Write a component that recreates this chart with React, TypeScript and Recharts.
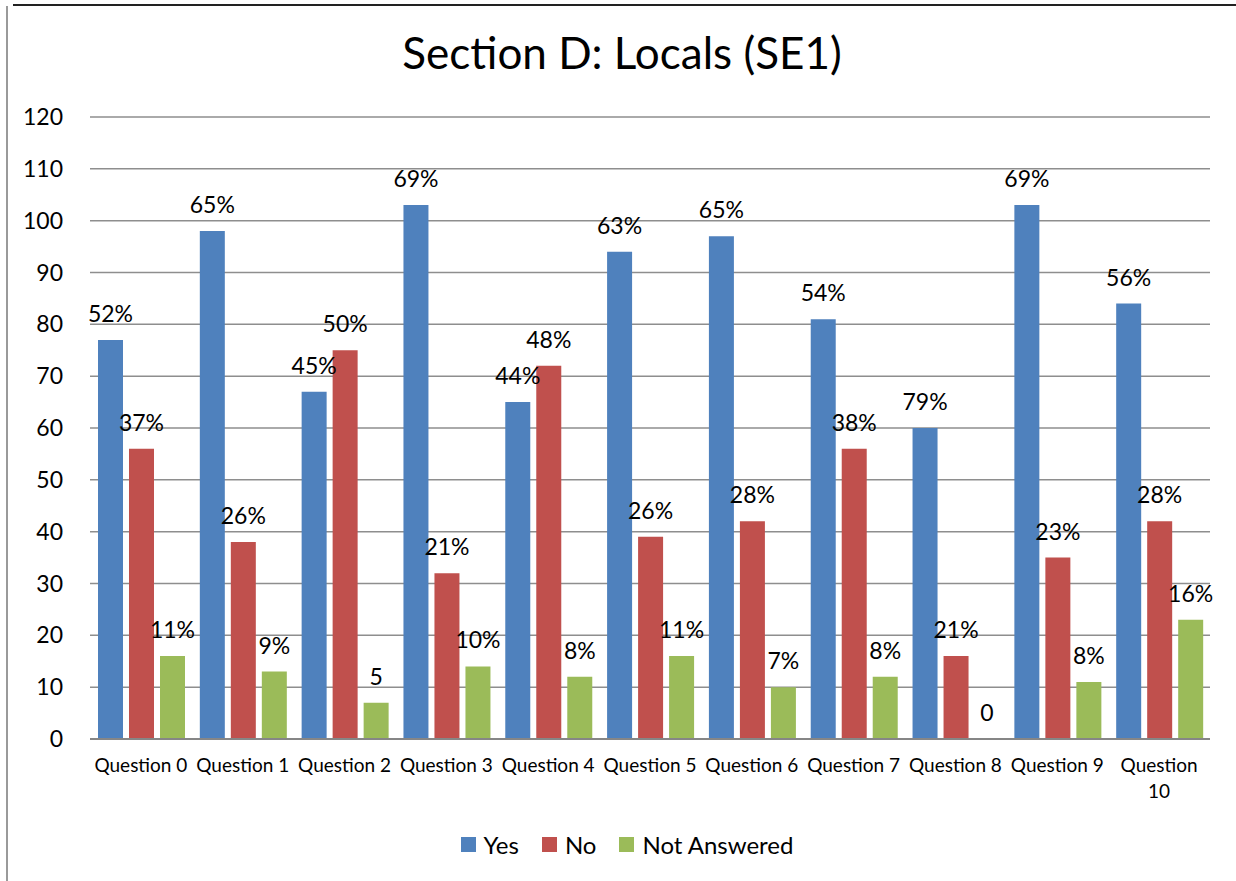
import React from "react"
import { Bar, BarChart, CartesianGrid, LabelList, Legend, XAxis, YAxis } from "recharts"

const questions = [
  "Question 0", "Question 1", "Question 2", "Question 3", "Question 4", "Question 5",
  "Question 6", "Question 7", "Question 8", "Question 9", "Question 10",
]
const seriesNames = ["Yes", "No", "Not Answered"]
const yesCounts = [77, 98, 67, 103, 65, 94, 97, 81, 60, 103, 84]
const noCounts = [56, 38, 75, 32, 72, 39, 42, 56, 16, 35, 42]
const naCounts = [16, 13, 7, 14, 12, 16, 10, 12, 0, 11, 23]
const yesLabels = ["52%", "65%", "45%", "69%", "44%", "63%", "65%", "54%", "79%", "69%", "56%"]
const noLabels = ["37%", "26%", "50%", "21%", "48%", "26%", "28%", "38%", "21%", "23%", "28%"]
const naLabels = ["11%", "9%", "5", "10%", "8%", "11%", "7%", "8%", "0", "8%", "16%"]
const yTicks = [0, 10, 20, 30, 40, 50, 60, 70, 80, 90, 100, 110, 120]

const FONT = "Lato, 'Liberation Sans', sans-serif"

const data = questions.map((q, i) => ({
  name: q,
  yes: yesCounts[i],
  no: noCounts[i],
  na: naCounts[i],
  yesLabel: yesLabels[i],
  noLabel: noLabels[i],
  naLabel: naLabels[i],
}))

function QuestionTick({ x, y, payload }: any) {
  const value: string = payload.value
  const lines = value.length > 10 ? value.split(" ") : [value]
  return (
    <text x={x} y={y} textAnchor="middle" fontSize={19} fill="#000" fontFamily={FONT}>
      {lines.map((line, i) => (
        <tspan key={i} x={x} dy={i === 0 ? 25 : 26}>
          {line}
        </tspan>
      ))}
    </text>
  )
}

// legend follows the series order, not recharts' alphabetical sort
function LegendBox({ payload }: any) {
  const items = seriesNames
    .map((n) => (payload || []).find((p: any) => p.value === n))
    .filter(Boolean)
  return (
    <div style={{ display: "flex", justifyContent: "center", alignItems: "center", height: 30, fontFamily: FONT }}>
      {items.map((p: any, i: number) => (
        <div key={i} style={{ display: "flex", alignItems: "center", marginRight: i < items.length - 1 ? 23 : 0 }}>
          <span style={{ width: 15, height: 15, background: p.color, display: "inline-block", marginRight: 8 }} />
          <span style={{ fontSize: 24, color: "#000" }}>{p.value}</span>
        </div>
      ))}
    </div>
  )
}

export default function App() {
  return (
    <div style={{ position: "absolute", left: 0, top: 0, width: 1236, height: 881, background: "#fff" }}>
      <div style={{ position: "absolute", left: 13, top: 4, right: 0, height: 2, background: "#222" }} />
      <div style={{ position: "absolute", left: 6, top: 6, bottom: 0, width: 2, background: "#9a9a9a" }} />
      <div
        style={{
          position: "absolute",
          left: 0,
          width: 1244,
          top: 26,
          textAlign: "center",
          fontFamily: FONT,
          fontSize: 44,
          color: "#000",
        }}
      >
        Section D: Locals (SE1)
      </div>
      <BarChart
        width={1236}
        height={881}
        data={data}
        margin={{ top: 117, right: 26, left: 0, bottom: 52 }}
        barCategoryGap={8}
        barGap={6}
        style={{ position: "absolute", left: 0, top: 0 }}
      >
        <CartesianGrid vertical={false} stroke="#8e8e8e" strokeWidth={1.5} />
        <XAxis
          dataKey="name"
          interval={0}
          height={60}
          tickLine={false}
          axisLine={{ stroke: "#868686", strokeWidth: 2 }}
          tick={<QuestionTick />}
        />
        <YAxis
          domain={[0, 120]}
          ticks={yTicks}
          width={90}
          axisLine={false}
          tickLine={false}
          tickMargin={21}
          tick={{ fontSize: 23, fill: "#000", fontFamily: FONT }}
        />
        <Legend
          verticalAlign="bottom"
          content={<LegendBox />}
          wrapperStyle={{ bottom: 22, left: 0, width: 1254 }}
        />
        <Bar dataKey="yes" name={seriesNames[0]} fill="#4F81BD" isAnimationActive={false}>
          <LabelList dataKey="yesLabel" position="top" offset={18} fontSize={23} fill="#000" fontFamily={FONT} />
        </Bar>
        <Bar dataKey="no" name={seriesNames[1]} fill="#C0504D" isAnimationActive={false}>
          <LabelList dataKey="noLabel" position="top" offset={18} fontSize={23} fill="#000" fontFamily={FONT} />
        </Bar>
        {/* tiny minPointSize so the zero bar still gets its "0" label */}
        <Bar dataKey="na" name={seriesNames[2]} fill="#9BBB59" minPointSize={0.1} isAnimationActive={false}>
          <LabelList dataKey="naLabel" position="top" offset={18} fontSize={23} fill="#000" fontFamily={FONT} />
        </Bar>
      </BarChart>
    </div>
  )
}
